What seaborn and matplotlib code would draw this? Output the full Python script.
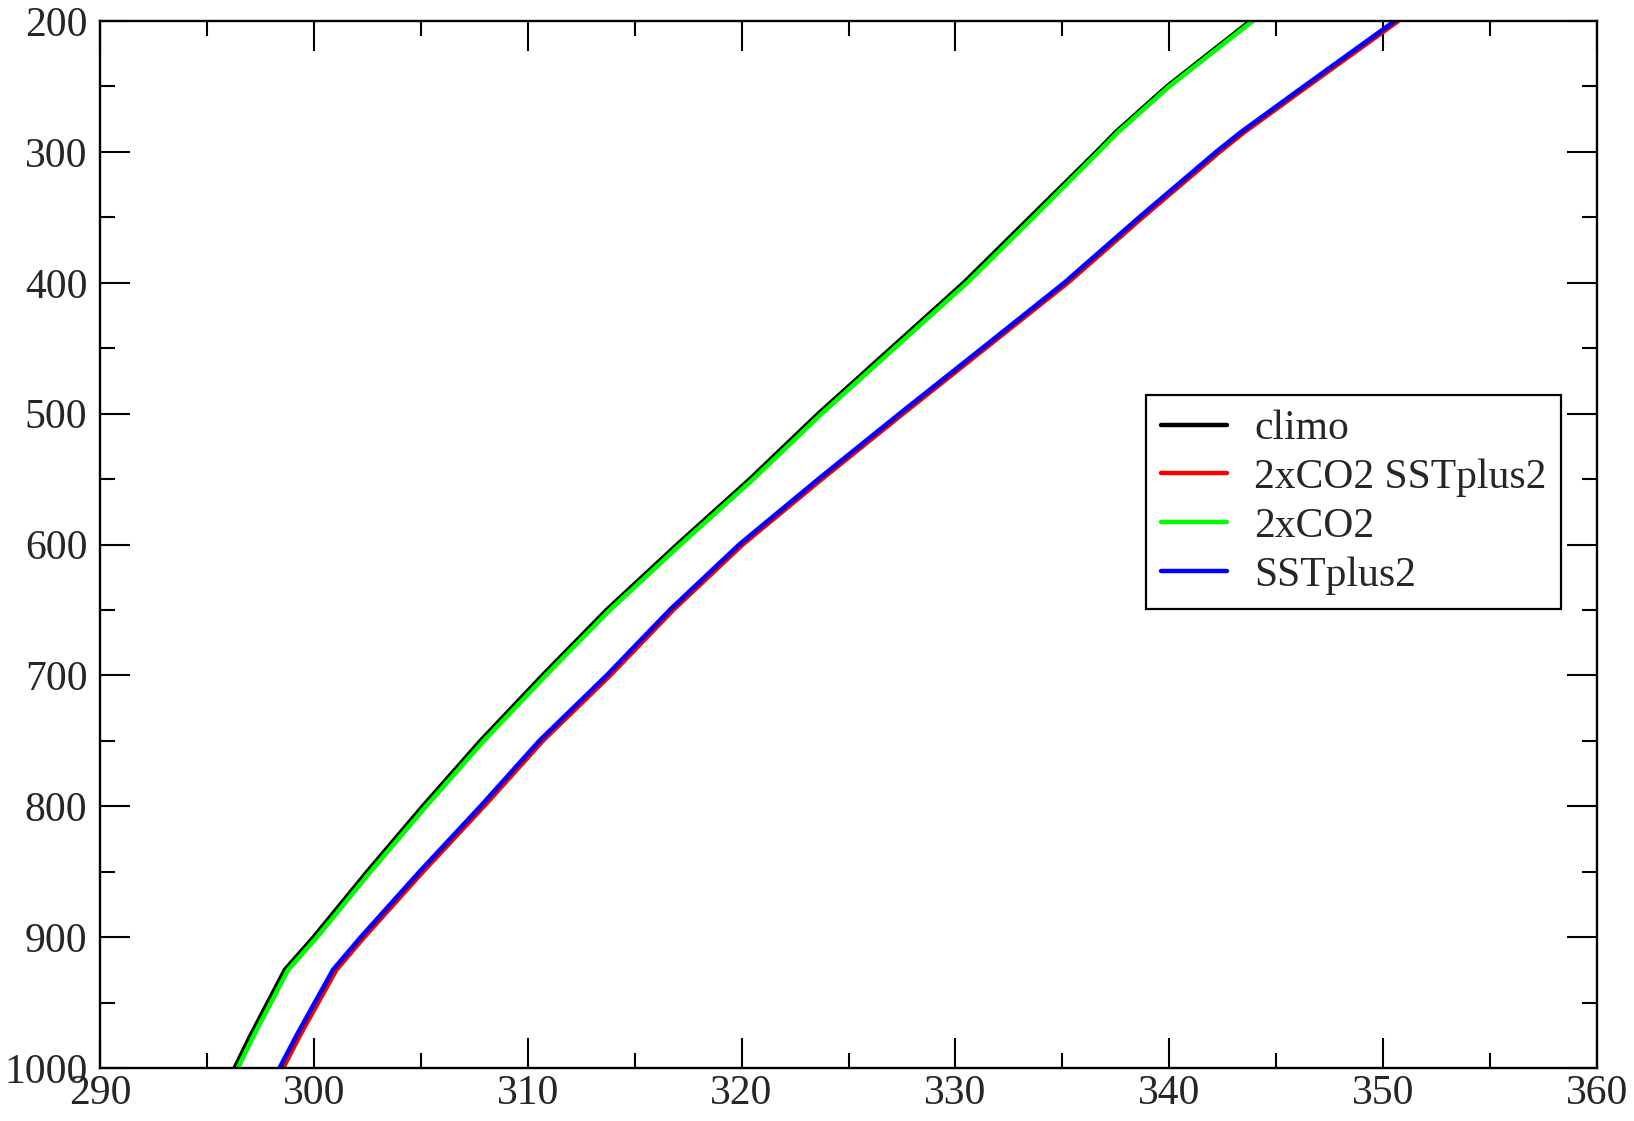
import matplotlib
matplotlib.use("Agg")
import matplotlib.pyplot as plt
import seaborn as sns
import pandas as pd
from matplotlib.ticker import MultipleLocator

# pressure levels (hPa)
pressure = [1000, 975, 950, 925, 900, 850, 800, 750, 700, 650, 600, 550, 500, 450, 400, 350, 300, 285, 250, 200]

# temperature-like profiles (K)
climo = [296.3, 297.05, 297.85, 298.65, 300.0, 302.5, 305.1, 307.8, 310.7, 313.7, 317.0, 320.4, 323.6, 327.0, 330.4, 333.5, 336.6, 337.5, 339.9, 343.8]
co2_sst = [298.56, 299.35, 300.2, 301.05, 302.35, 305.1, 307.95, 310.7, 313.85, 316.8, 320.05, 323.75, 327.55, 331.4, 335.25, 338.75, 342.35, 343.5, 346.45, 350.7]
co2 = [296.45, 297.2, 298.0, 298.8, 300.15, 302.65, 305.25, 307.95, 310.85, 313.85, 317.15, 320.55, 323.75, 327.15, 330.55, 333.65, 336.7, 337.6, 340.0, 343.9]
sstplus2 = [298.4, 299.2, 300.05, 300.9, 302.2, 304.95, 307.8, 310.55, 313.7, 316.65, 319.9, 323.6, 327.4, 331.26, 335.1, 338.6, 342.2, 343.35, 346.3, 350.55]

series_names = ["climo", "2xCO2 SSTplus2", "2xCO2", "SSTplus2"]
series_vals = [climo, co2_sst, co2, sstplus2]
series_colors = ["#000000", "#ff0000", "#00ff00", "#0000ff"]

sns.set_style("ticks")
plt.rcParams["font.family"] = ["Liberation Serif", "DejaVu Serif"]

fig = plt.figure(figsize=(16.34, 11.21), dpi=100)
ax = fig.add_axes([100 / 1634, 1 - 1068 / 1121, 1497 / 1634, 1047 / 1121])

for name, vals, col in zip(series_names, series_vals, series_colors):
    df = pd.DataFrame({"T": vals, "p": pressure})
    sns.lineplot(data=df, x="T", y="p", sort=False, estimator=None,
                 color=col, lw=3.4, label=name, ax=ax)

ax.set_xlim(290, 360)
ax.set_ylim(1000, 200)
ax.xaxis.set_major_locator(MultipleLocator(10))
ax.xaxis.set_minor_locator(MultipleLocator(5))
ax.yaxis.set_major_locator(MultipleLocator(100))
ax.yaxis.set_minor_locator(MultipleLocator(50))
ax.set_xlabel("")
ax.set_ylabel("")

for s in ax.spines.values():
    s.set_linewidth(1.7)
    s.set_color("black")

ax.tick_params(which="both", direction="in", top=True, right=True,
               width=1.5, color="black")
ax.tick_params(which="major", length=21.6)
ax.tick_params(which="minor", length=10.8)
ax.tick_params(axis="x", which="major", labelsize=30, pad=5)
ax.tick_params(axis="y", which="major", labelsize=30, pad=9)

leg = ax.legend(loc="upper left", bbox_to_anchor=((1146 - 100) / 1497, (1068 - 395) / 1047),
                fontsize=30, frameon=True, fancybox=False, shadow=False,
                handlelength=1.6, handletextpad=0.65, labelspacing=0.25,
                borderpad=0.35, borderaxespad=0.0, framealpha=1)
leg.get_frame().set_edgecolor("black")
leg.get_frame().set_linewidth(1.6)
for line in leg.get_lines():
    line.set_linewidth(3.2)

fig.savefig("out.png", dpi=100, facecolor="white")
